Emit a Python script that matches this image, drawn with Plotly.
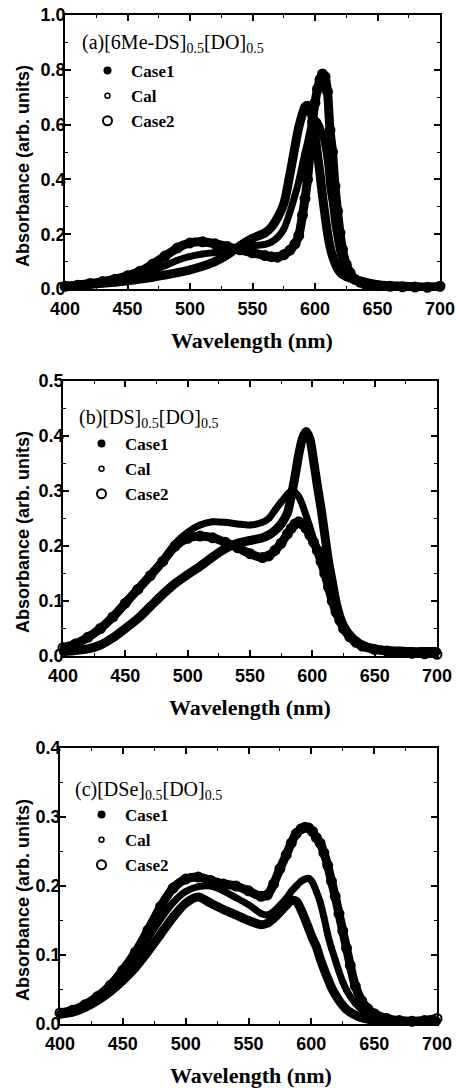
import plotly.graph_objects as go

# ---------------- data ----------------
WL_A = [400, 410, 420, 430, 440, 450, 460, 470, 480, 490, 500, 510, 520, 530, 540, 550, 560,
        565, 570, 575, 580, 584, 587,
        590, 592, 594, 596, 598, 600, 602, 604, 606, 608, 610, 612, 614, 616, 618, 620, 622,
        625, 628, 632, 636, 640,
        650, 660, 670, 680, 690, 700]
A_CASE1 = [0.010, 0.013, 0.017, 0.021, 0.025, 0.030, 0.036, 0.043, 0.051, 0.060, 0.070, 0.083, 0.100, 0.125, 0.158, 0.185, 0.205,
           0.225, 0.26, 0.31, 0.42, 0.52, 0.59,
           0.64, 0.665, 0.67, 0.655, 0.62, 0.56, 0.49, 0.42, 0.34, 0.27, 0.205, 0.155, 0.12, 0.095, 0.075, 0.062, 0.053,
           0.045, 0.04, 0.034, 0.03, 0.025,
           0.016, 0.012, 0.01, 0.008, 0.007, 0.006]
A_CAL = [0.010, 0.0135, 0.0185, 0.024, 0.030, 0.039, 0.050, 0.066, 0.085, 0.105, 0.119, 0.128, 0.133, 0.140, 0.150, 0.158, 0.163,
         0.171, 0.188, 0.218, 0.281, 0.342, 0.392,
         0.455, 0.497, 0.535, 0.578, 0.615, 0.62, 0.61, 0.592, 0.562, 0.522, 0.462, 0.368, 0.31, 0.235, 0.18, 0.133, 0.10,
         0.068, 0.05, 0.034, 0.027, 0.021,
         0.014, 0.011, 0.009, 0.0075, 0.0065, 0.008]
A_CASE2 = [0.010, 0.014, 0.020, 0.027, 0.036, 0.048, 0.065, 0.090, 0.120, 0.150, 0.168, 0.172, 0.165, 0.155, 0.143, 0.132, 0.122,
           0.118, 0.116, 0.125, 0.142, 0.165, 0.195,
           0.27, 0.33, 0.40, 0.50, 0.61, 0.68, 0.73, 0.765, 0.785, 0.775, 0.72, 0.58, 0.50, 0.375, 0.285, 0.205, 0.145,
           0.09, 0.06, 0.035, 0.025, 0.018,
           0.012, 0.01, 0.008, 0.007, 0.006, 0.01]

WL_B = [400, 410, 420, 430, 440, 450, 460, 470, 480, 490, 500, 510, 520, 530, 540, 550, 560,
        565, 570, 575, 580,
        583, 586, 589, 592, 595, 598, 601, 604, 607, 610, 613, 616, 619, 622, 625,
        630, 635, 640,
        650, 660, 670, 680, 690, 700]
B_CASE1 = [0.008, 0.010, 0.013, 0.020, 0.033, 0.05, 0.068, 0.09, 0.112, 0.132, 0.148, 0.163, 0.18, 0.195, 0.205, 0.21, 0.215,
           0.22, 0.228, 0.24, 0.26,
           0.29, 0.325, 0.365, 0.395, 0.408, 0.395, 0.355, 0.31, 0.268, 0.22, 0.172, 0.135, 0.098, 0.072, 0.055,
           0.038, 0.027, 0.02,
           0.013, 0.01, 0.009, 0.008, 0.008, 0.008]
B_CAL = [0.015, 0.022, 0.034, 0.05, 0.072, 0.098, 0.123, 0.148, 0.174, 0.205, 0.225, 0.238, 0.244, 0.243, 0.24, 0.238, 0.243,
         0.25, 0.265, 0.28, 0.294,
         0.30, 0.298, 0.29, 0.275, 0.255, 0.235, 0.213, 0.195, 0.175, 0.15, 0.125, 0.10, 0.08, 0.065, 0.05,
         0.035, 0.025, 0.018,
         0.012, 0.01, 0.009, 0.008, 0.008, 0.008]
B_CASE2 = [0.015, 0.022, 0.034, 0.05, 0.071, 0.096, 0.121, 0.146, 0.172, 0.2, 0.214, 0.218, 0.215, 0.207, 0.197, 0.186, 0.179,
           0.182, 0.192, 0.205, 0.222,
           0.232, 0.24, 0.244, 0.24, 0.232, 0.22, 0.207, 0.192, 0.172, 0.15, 0.125, 0.10, 0.08, 0.065, 0.05,
           0.035, 0.025, 0.018,
           0.012, 0.009, 0.007, 0.005, 0.004, 0.003]

WL_C = [400, 410, 420, 430, 440, 450, 460, 470, 480, 490, 500, 510, 520, 530, 540, 550, 560,
        565, 570, 575, 580,
        584, 588, 592, 595, 598, 601, 604, 607, 610, 613, 616, 619, 622, 625, 628, 631, 635,
        640, 645,
        650, 660, 670, 680, 690, 700]
C_CASE1 = [0.014, 0.017, 0.024, 0.034, 0.047, 0.063, 0.082, 0.105, 0.13, 0.155, 0.175, 0.184, 0.175, 0.166, 0.158, 0.15, 0.144,
           0.146, 0.153, 0.162, 0.172,
           0.179, 0.178, 0.165, 0.152, 0.138, 0.124, 0.112, 0.095, 0.08, 0.066, 0.053, 0.043, 0.034, 0.027, 0.021, 0.017, 0.013,
           0.009, 0.007,
           0.005, 0.004, 0.003, 0.003, 0.003, 0.004]
C_CAL = [0.015, 0.019, 0.026, 0.037, 0.052, 0.072, 0.096, 0.124, 0.152, 0.176, 0.192, 0.199, 0.2, 0.193, 0.183, 0.173, 0.16,
         0.158, 0.163, 0.172, 0.182,
         0.192, 0.2, 0.207, 0.21, 0.211, 0.205, 0.192, 0.177, 0.155, 0.13, 0.11, 0.093, 0.076, 0.061, 0.049, 0.04, 0.03,
         0.021, 0.015,
         0.011, 0.007, 0.005, 0.004, 0.004, 0.005]
C_CASE2 = [0.016, 0.02, 0.028, 0.04, 0.056, 0.078, 0.104, 0.136, 0.17, 0.197, 0.21, 0.213, 0.208, 0.203, 0.2, 0.193, 0.185,
           0.187, 0.203, 0.225, 0.245,
           0.262, 0.276, 0.283, 0.285, 0.284, 0.279, 0.27, 0.262, 0.248, 0.23, 0.207, 0.185, 0.16, 0.135, 0.11, 0.085, 0.055,
           0.034, 0.022,
           0.015, 0.008, 0.005, 0.004, 0.005, 0.008]

SERIES_NAMES = ["Case1", "Cal", "Case2"]
PANEL_LABELS = ["(a)[6Me-DS]<sub>0.5</sub>[DO]<sub>0.5</sub>",
                "(b)[DS]<sub>0.5</sub>[DO]<sub>0.5</sub>",
                "(c)[DSe]<sub>0.5</sub>[DO]<sub>0.5</sub>"]
X_TICKS = [400, 450, 500, 550, 600, 650, 700]
Y_MAX = [1.0, 0.5, 0.4]
Y_DTICK = [0.2, 0.1, 0.1]
X_TITLE = "Wavelength (nm)"
Y_TITLE = "Absorbance (arb. units)"

PANELS = [
    (WL_A, [A_CASE1, A_CAL, A_CASE2]),
    (WL_B, [B_CASE1, B_CAL, B_CASE2]),
    (WL_C, [C_CASE1, C_CAL, C_CASE2]),
]

# ---------------- layout geometry (pixels) ----------------
W, H = 456, 1088
# plot area boxes: (left, right, top, bottom)
BOXES = [(65, 440, 15, 289), (63, 437, 381, 656), (60, 437, 748, 1024)]
LABEL_POS = [(80, 44), (77, 418), (73, 790)]
LEGEND_POS = [(84, 53), (78, 426), (78, 797)]
YTITLE_POS = [(23, 166), (23, 532), (23, 900)]
XTITLE_POS = [(252, 340), (250, 707), (251, 1075)]

def px(x):
    return x / W

def py(y):
    return 1 - y / H

MARKERS = [
    dict(symbol="circle", size=8, color="black"),
    dict(symbol="circle-open", size=5, color="black", line=dict(width=1.5, color="black")),
    dict(symbol="circle-open", size=9, color="black", line=dict(width=2, color="black")),
]
LINE_W = [9, 7, 9]

SERIF = "Liberation Serif, Times New Roman, serif"
SANS = "Liberation Sans, Arial, sans-serif"

fig = go.Figure()
annotations = []
layout_axes = {}
legend_names = ["legend", "legend2", "legend3"]

tickfont = dict(family=SANS, size=18, color="black", weight="bold")

for i, (wl, series) in enumerate(PANELS):
    n = i + 1
    xa = "x" if n == 1 else f"x{n}"
    ya = "y" if n == 1 else f"y{n}"
    for k, vals in enumerate(series):
        fig.add_trace(go.Scatter(x=wl, y=vals, mode="lines", xaxis=xa, yaxis=ya,
                                 line=dict(color="black", width=LINE_W[k], shape="spline", smoothing=0.8),
                                 showlegend=False, hoverinfo="skip"))
    for k, vals in enumerate(series):
        fig.add_trace(go.Scatter(x=wl, y=vals, mode="markers", xaxis=xa, yaxis=ya,
                                 name="<b>" + SERIES_NAMES[k] + "</b>", marker=MARKERS[k], cliponaxis=False,
                                 legend=legend_names[i]))
    l, r, t, b = BOXES[i]
    common = dict(showline=True, linecolor="black", linewidth=1.5, mirror="allticks",
                  ticks="inside", ticklen=6, tickwidth=1.5, tickcolor="black",
                  showgrid=False, zeroline=False, tickfont=tickfont, automargin=False)
    layout_axes["xaxis" if n == 1 else f"xaxis{n}"] = dict(
        domain=[px(l), px(r)], anchor=ya, range=[400, 700], tickvals=X_TICKS,
        ticklabelstandoff=3,
        minor=dict(ticks="inside", ticklen=3, tickwidth=1, tickcolor="black", dtick=25, tick0=400),
        **common)
    layout_axes["yaxis" if n == 1 else f"yaxis{n}"] = dict(
        domain=[py(b), py(t)], anchor=xa, range=[0, Y_MAX[i]], dtick=Y_DTICK[i], tick0=0,
        tickformat=".1f", ticklabelstandoff=-6,
        minor=dict(ticks="inside", ticklen=3, tickwidth=1, tickcolor="black", dtick=Y_DTICK[i] / 2, tick0=0),
        **common)
    annotations.append(dict(text=PANEL_LABELS[i], x=px(LABEL_POS[i][0]), y=py(LABEL_POS[i][1]),
                            xref="paper", yref="paper", xanchor="left", yanchor="middle", showarrow=False,
                            font=dict(family=SERIF, size=20, color="black")))
    annotations.append(dict(text="<b>" + Y_TITLE + "</b>", x=px(YTITLE_POS[i][0]), y=py(YTITLE_POS[i][1]),
                            xref="paper", yref="paper", xanchor="center", yanchor="middle", showarrow=False,
                            textangle=-90,
                            font=dict(family=SANS, size=18, color="black")))
    annotations.append(dict(text="<b>" + X_TITLE + "</b>", x=px(XTITLE_POS[i][0]), y=py(XTITLE_POS[i][1]),
                            xref="paper", yref="paper", xanchor="center", yanchor="middle", showarrow=False,
                            font=dict(family=SERIF, size=22, color="black")))
    layout_axes[legend_names[i]] = dict(
        x=px(LEGEND_POS[i][0]), y=py(LEGEND_POS[i][1]), xanchor="left", yanchor="top",
        bgcolor="rgba(0,0,0,0)", borderwidth=0, itemwidth=37, tracegroupgap=0,
        font=dict(family=SERIF, size=17, color="black"))

fig.update_layout(width=W, height=H, margin=dict(l=0, r=0, t=0, b=0),
                  paper_bgcolor="white", plot_bgcolor="white", hovermode=False,
                  annotations=annotations, **layout_axes)

fig.write_html("out.html", config={"displayModeBar": False, "staticPlot": False},
               post_script="document.body.style.margin='0px';document.body.style.padding='0px';"
                           "document.body.style.overflow='hidden';")
